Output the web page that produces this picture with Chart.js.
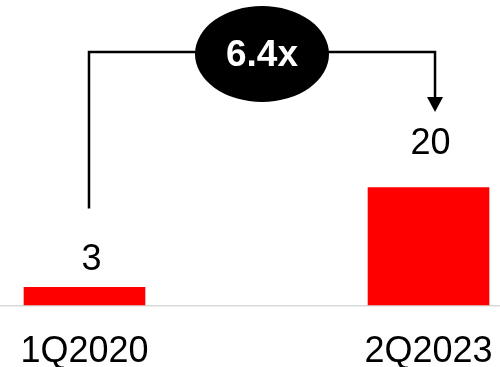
<!DOCTYPE html>
<html>
<head>
<meta charset="utf-8">
<script src="https://cdn.jsdelivr.net/npm/chart.js@4"></script>
<style>
  html, body { margin: 0; padding: 0; background: #fff; }
  #wrap { width: 500px; height: 367px; }
</style>
</head>
<body>
<div id="wrap"><canvas id="growthChart"></canvas></div>
<script>
const categories = ['1Q2020', '2Q2023'];
const values = [3, 20];
const multipleLabel = '6.4x';

const FONT = '"Liberation Sans", Arial, sans-serif';

// baseline, value labels and the growth bracket
const annotations = {
  id: 'annotations',
  beforeDatasetsDraw(chart) {
    const ctx = chart.ctx;
    const y0 = chart.scales.y.getPixelForValue(0);
    ctx.save();
    ctx.strokeStyle = '#d9d9d9';
    ctx.lineWidth = 1.5;
    ctx.beginPath();
    ctx.moveTo(0, y0 + 0.75);
    ctx.lineTo(chart.width, y0 + 0.75);
    ctx.stroke();
    ctx.restore();
  },
  afterDatasetsDraw(chart) {
    const ctx = chart.ctx;
    const bars = chart.getDatasetMeta(0).data;
    const labelShift = [{ dx: 7, dy: 17 }, { dx: 2, dy: 34 }];

    ctx.save();
    ctx.fillStyle = '#000';
    ctx.font = '36px ' + FONT;
    ctx.textAlign = 'center';
    ctx.textBaseline = 'alphabetic';
    bars.forEach((bar, i) => {
      ctx.fillText(String(values[i]), bar.x + labelShift[i].dx, bar.y - labelShift[i].dy);
    });

    // bracket from first bar to second bar
    const xL = bars[0].x + 4.5;
    const xR = bars[1].x + 6.5;
    const yTop = 52;
    const yLeftEnd = bars[0].y - 79;
    const yTip = 112;
    ctx.strokeStyle = '#000';
    ctx.lineWidth = 2.5;
    ctx.beginPath();
    ctx.moveTo(xL, yLeftEnd);
    ctx.lineTo(xL, yTop);
    ctx.lineTo(xR, yTop);
    ctx.lineTo(xR, yTip - 14);
    ctx.stroke();
    ctx.beginPath();
    ctx.moveTo(xR - 8, yTip - 15);
    ctx.lineTo(xR + 8, yTip - 15);
    ctx.lineTo(xR, yTip);
    ctx.closePath();
    ctx.fill();

    // ellipse with multiple
    const cx = (xL + xR) / 2;
    const cy = yTop + 2;
    ctx.beginPath();
    ctx.ellipse(cx, cy, 67, 48, 0, 0, Math.PI * 2);
    ctx.fill();
    ctx.fillStyle = '#fff';
    ctx.font = 'bold 37px ' + FONT;
    ctx.textBaseline = 'middle';
    ctx.fillText(multipleLabel, cx, cy + 2);
    ctx.restore();
  }
};

const ctx = document.getElementById('growthChart').getContext('2d');
const growthChart = new Chart(ctx, {
  type: 'bar',
  data: {
    datasets: [{
      data: values.map((v, i) => ({ x: i, y: v })),
      backgroundColor: '#ff0000',
      barThickness: 121,
      clip: false
    }]
  },
  options: {
    responsive: true,
    maintainAspectRatio: false,
    animation: false,
    layout: { padding: { bottom: -3 } },
    plugins: {
      legend: { display: false },
      tooltip: { enabled: false }
    },
    scales: {
      x: {
        type: 'linear',
        offset: false,
        min: -0.2456,
        max: 1.2078,
        grid: { display: false, drawTicks: true, tickLength: 29 },
        border: { display: false },
        afterBuildTicks: axis => {
          axis.ticks = categories.map((c, i) => ({ value: i }));
        },
        ticks: {
          autoSkip: false,
          maxRotation: 0,
          padding: 0,
          color: '#000',
          font: { family: FONT, size: 36, lineHeight: 1 },
          callback: value => categories[value]
        }
      },
      y: {
        display: false,
        min: 0,
        max: 52
      }
    }
  },
  plugins: [annotations]
});
</script>
</body>
</html>
